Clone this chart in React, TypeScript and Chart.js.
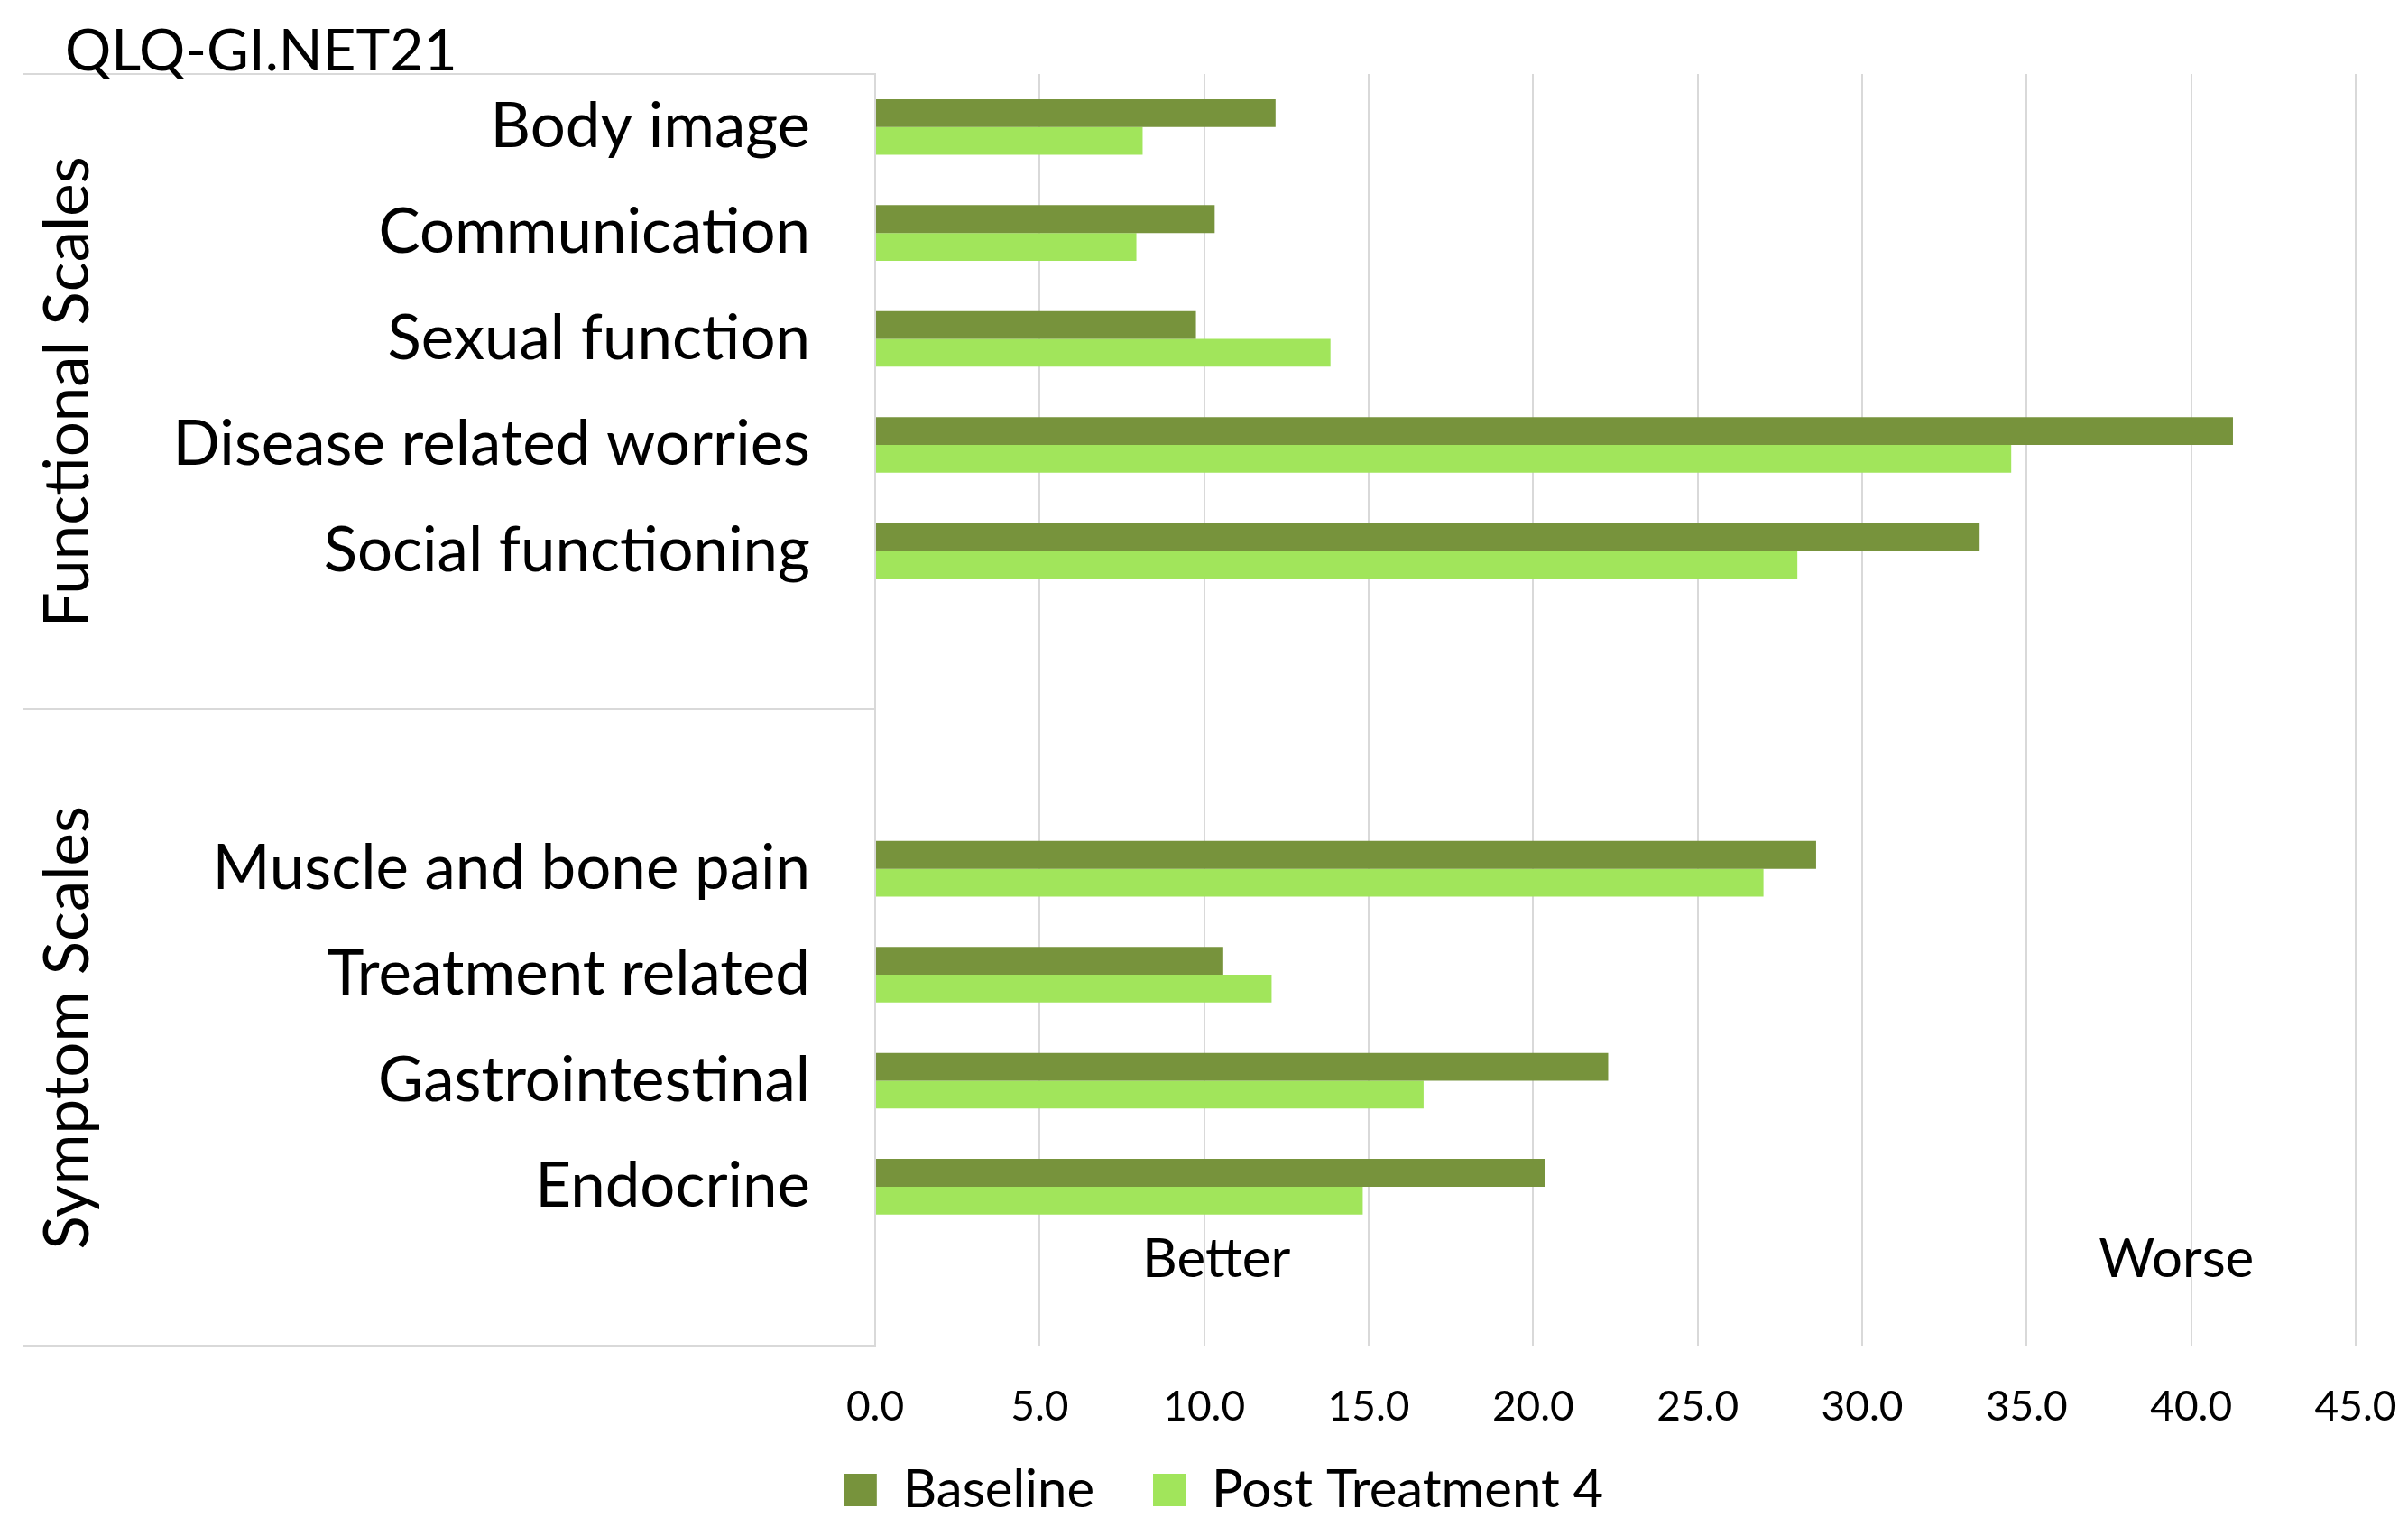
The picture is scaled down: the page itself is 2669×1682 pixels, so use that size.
import React, { useEffect, useRef } from 'react';
import { Chart, registerables } from 'chart.js';

Chart.register(...registerables);

// ---------- data ----------
const TITLE = 'QLQ-GI.NET21';
const categories = [
  'Body image',
  'Communication',
  'Sexual function',
  'Disease related worries',
  'Social functioning',
  '',
  '',
  'Muscle and bone pain',
  'Treatment related',
  'Gastrointestinal',
  'Endocrine',
  '',
];
const seriesNames = ['Baseline', 'Post Treatment 4'];
const baselineValues = [12.17, 10.32, 9.75, 41.27, 33.57, null, null, 28.6, 10.58, 22.28, 20.37, null];
const postValues = [8.13, 7.94, 13.84, 34.53, 28.03, null, null, 27.0, 12.05, 16.67, 14.82, null];
const groupLabels = ['Functional Scales', 'Symptom Scales'];
const groupStarts = [0, 6];
const groupEnds = [5, 11];
const directionTexts = ['Better', 'Worse'];
const directionValues = [10.37, 39.55];
const xMin = 0;
const xMax = 45;
const xStep = 5;

// ---------- style ----------
const W = 2669;
const H = 1700;
const FONT = 'Lato, "Open Sans", sans-serif';
const GRID = '#d9d9d9';
const COLORS = ['#77933C', '#A1E55B'];
const PAD_LEFT = 102;
const AXIS_X = 970;

export default function App() {
  const ref = useRef<HTMLCanvasElement>(null);

  useEffect(() => {
    const canvas = ref.current;
    if (!canvas) return;

    const overlay = {
      id: 'overlay',
      afterLayout(chart: any) {
        // let the x tick labels use the room under the axis box
        const xs = chart.scales.x;
        if (xs) xs.bottom = chart.height;
      },
      afterDraw(chart: any) {
        const { ctx, chartArea, scales } = chart;
        const xs = scales.x;
        const ys = scales.y;
        ctx.save();
        // separator lines of the category groups
        ctx.strokeStyle = GRID;
        ctx.lineWidth = 2;
        const half = (ys.getPixelForValue(1) - ys.getPixelForValue(0)) / 2;
        const bounds = [chartArea.top];
        for (let i = 1; i < groupStarts.length; i++) bounds.push(ys.getPixelForValue(groupStarts[i]) - half);
        bounds.push(chartArea.bottom);
        bounds.forEach((b) => {
          ctx.beginPath();
          ctx.moveTo(25, Math.round(b));
          ctx.lineTo(chartArea.left, Math.round(b));
          ctx.stroke();
        });
        // group labels (rotated)
        ctx.fillStyle = '#000';
        ctx.font = `69px ${FONT}`;
        ctx.textAlign = 'center';
        ctx.textBaseline = 'alphabetic';
        groupLabels.forEach((g, i) => {
          const y0 = ys.getPixelForValue(groupStarts[i]) - half;
          const y1 = ys.getPixelForValue(groupEnds[i]) + half;
          ctx.save();
          ctx.translate(98, (y0 + y1) / 2);
          ctx.rotate(-Math.PI / 2);
          ctx.fillText(g, 0, 0);
          ctx.restore();
        });
        // title
        ctx.textAlign = 'left';
        ctx.font = `64px ${FONT}`;
        ctx.fillText(TITLE, 72, chartArea.top - 4);
        // better / worse
        ctx.textAlign = 'center';
        ctx.font = `60px ${FONT}`;
        directionTexts.forEach((t, i) => {
          ctx.fillText(t, xs.getPixelForValue(directionValues[i]), chartArea.bottom - 76);
        });
        ctx.restore();
      },
    };

    const chart = new Chart(canvas, {
      type: 'bar',
      data: {
        labels: categories,
        datasets: [
          {
            label: seriesNames[0],
            data: baselineValues,
            backgroundColor: COLORS[0],
            borderWidth: 0,
          },
          {
            label: seriesNames[1],
            data: postValues,
            backgroundColor: COLORS[1],
            borderWidth: 0,
          },
        ],
      },
      options: {
        indexAxis: 'y',
        responsive: false,
        animation: false,
        devicePixelRatio: 1,
        categoryPercentage: 0.525,
        barPercentage: 1,
        layout: { padding: { top: 82, right: 58, bottom: 10, left: PAD_LEFT } },
        scales: {
          x: {
            type: 'linear',
            min: xMin,
            max: xMax,
            grid: { color: GRID, lineWidth: 2, drawTicks: true, tickLength: 41, tickColor: 'rgba(0,0,0,0)' },
            border: { display: false },
            ticks: {
              stepSize: xStep,
              padding: 0,
              color: '#000',
              font: { family: FONT, size: 46 },
              callback: (v: any) => Number(v).toFixed(1),
            },
            afterFit: (scale: any) => {
              scale.height = 66;
            },
          },
          y: {
            type: 'category',
            grid: {
              display: true,
              drawOnChartArea: false,
              drawTicks: true,
              tickLength: 72,
              color: 'rgba(0,0,0,0)',
              tickColor: 'rgba(0,0,0,0)',
            },
            border: { display: true, color: GRID, width: 2 },
            ticks: {
              padding: 0,
              color: '#000',
              autoSkip: false,
              font: { family: FONT, size: 69 },
            },
            afterFit: (scale: any) => {
              scale.width = AXIS_X - PAD_LEFT;
            },
          },
        },
        plugins: {
          legend: {
            position: 'bottom',
            labels: {
              boxWidth: 36,
              boxHeight: 36,
              padding: 65,
              color: '#000',
              font: { family: FONT, size: 58 },
            },
          },
          tooltip: { enabled: false },
          title: { display: false },
        },
      },
      plugins: [overlay],
    });

    return () => chart.destroy();
  }, []);

  return (
    <div
      style={{
        position: 'fixed',
        left: 0,
        top: 0,
        width: W,
        height: 1682,
        overflow: 'hidden',
        background: '#fff',
      }}
    >
      <canvas ref={ref} width={W} height={H} style={{ display: 'block', width: W, height: H }} />
    </div>
  );
}
